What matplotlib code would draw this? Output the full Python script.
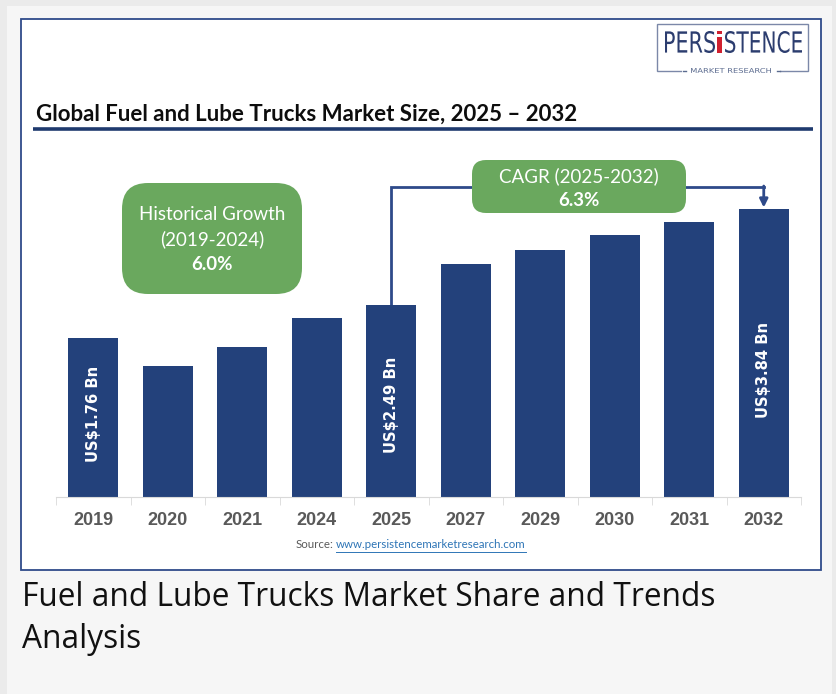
import matplotlib
matplotlib.use("Agg")
import matplotlib.pyplot as plt
from matplotlib.patches import Rectangle, FancyBboxPatch, PathPatch
from matplotlib.textpath import TextPath
from matplotlib.font_manager import FontProperties
from matplotlib.transforms import Affine2D

# data (bar heights, US$ Bn)
years = ["2019", "2020", "2021", "2024", "2025", "2027", "2029", "2030", "2031", "2032"]
market_size = [2.12, 1.75, 2.00, 2.39, 2.56, 3.11, 3.29, 3.49, 3.67, 3.84]
label_idx = [0, 4, 9]
label_txt = ["US$1.76 Bn", "US$2.49 Bn", "US$3.84 Bn"]
hist_lines = ["Historical Growth", "(2019-2024)", "6.0%"]
cagr_lines = ["CAGR (2025-2032)", "6.3%"]

W, H = 836, 694
navy = "#23417b"
green = "#6aa85e"
fig = plt.figure(figsize=(W / 100, H / 100), dpi=100)
fig.patch.set_facecolor("#f6f6f6")

# background layer, pixel coordinates
bg = fig.add_axes([0, 0, 1, 1], zorder=0)
bg.set_xlim(0, W)
bg.set_ylim(H, 0)
bg.axis("off")
bg.add_patch(Rectangle((0, 0), W, 6, color="#ebebeb", lw=0))
bg.add_patch(Rectangle((0, 0), 7, H, color="#ebebeb", lw=0))
bg.add_patch(Rectangle((832, 0), 4, H, color="#ebebeb", lw=0))
bg.add_patch(Rectangle((21, 19), 800, 551, facecolor="white", edgecolor="#2f4b8a", lw=1.3))

# bar chart
ax = fig.add_axes([56 / W, (H - 497) / H, 745 / W, 347 / H], zorder=1)
ax.patch.set_alpha(0)
x = list(range(len(years)))
ax.bar(x, market_size, width=0.67, color=navy, zorder=2)
ax.set_xlim(-0.5, len(years) - 0.5)
ax.set_ylim(0, 347 / 75)
for s in ["top", "right", "left"]:
    ax.spines[s].set_visible(False)
ax.spines["bottom"].set_color("#d9d9d9")
ax.set_yticks([])
ax.set_xticks(x)
ax.set_xticklabels(years, fontsize=13, fontweight="bold", color="#595959",
                   family="Liberation Sans")
ax.set_xticks([i - 0.5 for i in range(len(years) + 1)], minor=True)
ax.tick_params(axis="x", which="major", length=0, pad=11)
ax.tick_params(axis="x", which="minor", length=6, color="#d9d9d9")

fracs = [0.52, 0.48, 0.44]
for i, t, f in zip(label_idx, label_txt, fracs):
    ax.text(i, market_size[i] * f, t, rotation=90, ha="center", va="center",
            color="white", fontsize=10.6, fontweight="bold", family="DejaVu Sans")

# connector 2025 -> 2032
level = 310 / 75
ax.plot([4, 4, 9], [market_size[4], level, level], color="#2e4a8a", lw=2,
        clip_on=False, solid_joinstyle="miter", zorder=1)
ax.annotate("", xy=(9, market_size[9] + 0.02), xytext=(9, level + 0.013),
            arrowprops=dict(arrowstyle="-|>", color="#2e4a8a", lw=2,
                            mutation_scale=12, shrinkA=0, shrinkB=0),
            annotation_clip=False)

# foreground layer, pixel coordinates
fg = fig.add_axes([0, 0, 1, 1], zorder=2)
fg.set_xlim(0, W)
fg.set_ylim(H, 0)
fg.axis("off")
fg.patch.set_alpha(0)

fg.text(36, 114, "Global Fuel and Lube Trucks Market Size, 2025 \u2013 2032",
        fontsize=16, fontweight="bold", family="Lato", color="#0d0d0d",
        ha="left", va="center")
fg.plot([33, 813], [129, 129], color="#1f3a6e", lw=2.6, solid_capstyle="butt")

# green boxes
fg.add_patch(FancyBboxPatch((122, 183), 180, 111, boxstyle="round,pad=0,rounding_size=26",
                            facecolor=green, edgecolor="none"))
for yy, t in zip([214, 239, 264], hist_lines):
    fg.text(212, yy, t, ha="center", va="center", color="white", fontsize=13.5,
            family="Lato", fontweight="bold" if t.endswith("%") else "normal")
fg.add_patch(FancyBboxPatch((472, 160), 214, 53, boxstyle="round,pad=0,rounding_size=14",
                            facecolor=green, edgecolor="none"))
for yy, t in zip([176, 200], cagr_lines):
    fg.text(579, yy, t, ha="center", va="center", color="white", fontsize=13.5,
            family="Lato", fontweight="bold" if t.endswith("%") else "normal")

# source line
fg.text(296, 545, "Source:", fontsize=8.3, color="#595959", family="Lato",
        ha="left", va="center")
link = fg.text(336, 545, "www.persistencemarketresearch.com", fontsize=8.3,
               color="#2e75b6", family="Lato", ha="left", va="center")
fig.canvas.draw()
bb = link.get_window_extent()
fg.plot([336, 336 + bb.width], [551.5, 551.5], color="#2e75b6", lw=0.7)

# caption under the card
fg.text(22, 597, "Fuel and Lube Trucks Market Share and Trends", fontsize=22.8,
        family="Open Sans", color="#111111", ha="left", va="center")
fg.text(22, 640, "Analysis", fontsize=22.8, family="Open Sans", color="#111111",
        ha="left", va="center")


# logo
def fit_text(s, x0, x1, ytop, ybot, color, bold=False):
    fp = FontProperties(family="DejaVu Sans", weight="bold" if bold else "normal")
    p = TextPath((0, 0), s, size=10, prop=fp)
    ext = p.get_extents()
    sx = (x1 - x0) / ext.width
    sy = (ybot - ytop) / ext.height
    tr = Affine2D().translate(-ext.x0, -ext.y0).scale(sx, -sy).translate(x0, ybot)
    fg.add_patch(PathPatch(tr.transform_path(p), color=color, lw=0))


logo_blue = "#2c3d6f"
fg.add_patch(Rectangle((657, 24), 151, 47, facecolor="none", edgecolor="#7b88a8", lw=1))
fg.add_patch(Rectangle((682, 66), 98, 9, facecolor="white", edgecolor="none"))
fit_text("PERS", 665, 715, 31, 53, logo_blue)
fit_text("i", 717, 722, 31, 53, "#d0202f")
fit_text("STENCE", 725, 802, 31, 53, logo_blue)
fit_text("MARKET RESEARCH", 691, 771, 68, 73, "#5b6b8f")
fg.plot([683, 686], [71, 71], color="#5b6b8f", lw=1)
fg.plot([777, 780], [71, 71], color="#5b6b8f", lw=1)

fig.savefig("out.png", dpi=100, facecolor=fig.get_facecolor())
